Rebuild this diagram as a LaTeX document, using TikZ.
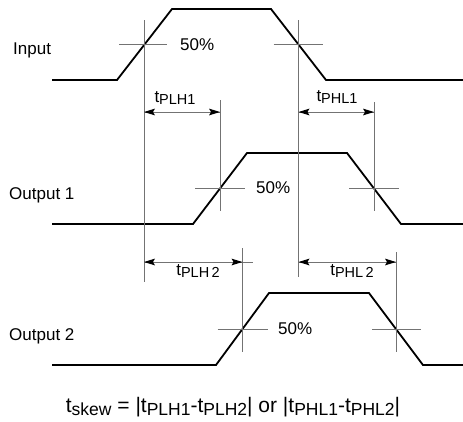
\documentclass[tikz,border=0pt]{standalone}
\usepackage{fontspec}
\setmainfont{Liberation Sans}
\newcommand\tsb[1]{t\raisebox{-0.28ex}{\fontsize{14.5}{14.5}\selectfont #1}}
\newcommand\tsbig[1]{t\raisebox{-0.28ex}{\fontsize{17.5}{17.5}\selectfont #1}}
\begin{document}
\begin{tikzpicture}[x=1pt,y=-1pt,
  wave/.style={line width=1.8pt, line join=miter},
  guide/.style={line width=0.8pt, draw=black!55},
  rhead/.pic={\fill[black] (0,0) -- (-11,-3.4) -- (-9,0) -- (-11,3.4) -- cycle;},
  lhead/.pic={\fill[black] (0,0) -- (11,-3.4) -- (9,0) -- (11,3.4) -- cycle;},
  lbl/.style={font=\fontsize{17}{20}\selectfont, inner sep=0pt}]
\useasboundingbox (0,0) rectangle (463,421);

% waveforms
\draw[wave] (52,80) -- (117,80) -- (172,9) -- (271,9) -- (326,80) -- (463,80);
\draw[wave] (52,224) -- (193,224) -- (247,153) -- (347,153) -- (401,224) -- (463,224);
\draw[wave] (52,365) -- (216,365) -- (269,293) -- (369,293) -- (423,365) -- (463,365);

% 50% crossing points
\coordinate (i1) at (144,44.5);
\coordinate (i2) at (298.5,44.5);
\coordinate (a1) at (220,188.5);
\coordinate (a2) at (374,188.5);
\coordinate (b1) at (242.5,329);
\coordinate (b2) at (396,329);

% guide lines (verticals)
\draw[guide] (i1 |- 0,20) -- (i1 |- 0,282);
\draw[guide] (i2 |- 0,20) -- (i2 |- 0,277);
\draw[guide] (a1 |- 0,100) -- (a1 |- 0,211);
\draw[guide] (a2 |- 0,102) -- (a2 |- 0,211);
\draw[guide] (b1 |- 0,248) -- (b1 |- 0,352);
\draw[guide] (b2 |- 0,252) -- (b2 |- 0,352);
% crosshair horizontals
\draw[guide] ([xshift=-25pt]i1) -- ([xshift=23pt]i1);
\draw[guide] ([xshift=-25pt]i2) -- ([xshift=24pt]i2);
\draw[guide] ([xshift=-25pt]a1) -- ([xshift=25pt]a1);
\draw[guide] ([xshift=-25pt]a2) -- ([xshift=25pt]a2);
\draw[guide] ([xshift=-25pt]b1) -- ([xshift=25pt]b1);
\draw[guide] ([xshift=-24pt]b2) -- ([xshift=25pt]b2);

% dimension arrows
\coordinate (d1) at (0,112);
\coordinate (d2) at (0,262);
\draw[guide] (i1 |- d1) -- (a1 |- d1);
\pic at (i1 |- d1) {lhead}; \pic at (a1 |- d1) {rhead};
\draw[guide] (i2 |- d1) -- (a2 |- d1);
\pic at (i2 |- d1) {lhead}; \pic at (a2 |- d1) {rhead};
\draw[guide] (i1 |- d2) -- ([xshift=10pt]b1 |- d2);
\pic at (i1 |- d2) {lhead}; \pic at (b1 |- d2) {rhead};
\draw[guide] (i2 |- d2) -- (b2 |- d2);
\pic at (i2 |- d2) {lhead}; \pic at (b2 |- d2) {rhead};

% labels
\node[lbl, anchor=west] (lin) at (13,50) {Input};
\node[lbl, anchor=west] (lo1) at (9,195) {Output 1};
\node[lbl, anchor=west] (lo2) at (9,336) {Output 2};
\node[lbl, anchor=west] (p1) at (180,45) {50\%};
\node[lbl, anchor=west] (p2) at (256,188) {50\%};
\node[lbl, anchor=west] (p3) at (278,329) {50\%};

\node[lbl] (tl1) at (175,98) {\tsb{PLH1}};
\node[lbl] (th1) at (337,97) {\tsb{PHL1}};
\node[lbl] (tl2) at (198,271) {\tsb{PLH\,2}};
\node[lbl] (th2) at (352,271) {\tsb{PHL\,2}};

\node[lbl, font=\fontsize{21}{24}\selectfont] (skew) at (233,407)
  {\tsbig{skew} = |\tsbig{PLH1}-\tsbig{PLH2}| or |\tsbig{PHL1}-\tsbig{PHL2}|};
\end{tikzpicture}
\end{document}
